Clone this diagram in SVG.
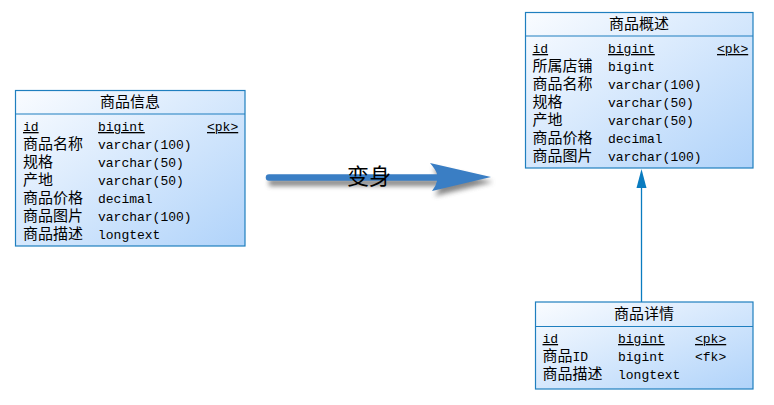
<svg xmlns="http://www.w3.org/2000/svg" width="774" height="405" viewBox="0 0 774 405">
<style>
.box{fill:url(#g);stroke:#1f7fbf;stroke-width:1.2}
.div{stroke:#1f7fbf;stroke-width:1.2}
.t{font-family:"Noto Sans CJK SC","Liberation Sans",sans-serif;font-size:15px;fill:#000}
.m{font-family:"Liberation Mono","Noto Sans CJK SC",monospace;font-size:13px;fill:#000}
.h{font-family:"Noto Sans CJK SC",sans-serif;font-size:15px;fill:#000;text-anchor:middle}
.u{text-decoration:underline}
</style>
<defs>
<linearGradient id="g" x1="0" y1="0" x2="1" y2="1">
<stop offset="0" stop-color="#fafcff"/>
<stop offset="1" stop-color="#b0d3fa"/>
</linearGradient>
<filter id="sh" x="-10%" y="-50%" width="120%" height="200%">
<feGaussianBlur stdDeviation="2.5"/>
</filter>
<marker id="ah" markerWidth="10" markerHeight="20" refX="10" refY="5" orient="auto" markerUnits="userSpaceOnUse" viewBox="0 0 20 10">
<path d="M0,0 L20,5 L0,10 Z" fill="#0a7cc0"/>
</marker>
</defs>
<g id="connectors">
<line x1="641.5" y1="302" x2="641.5" y2="186" stroke="#0a7cc0" stroke-width="1.3"/>
<path d="M641.5,169 L646.5,188 L636.5,188 Z" fill="#0a7cc0"/>
<g id="bigarrow">
<g filter="url(#sh)" fill="#555" opacity="0.7">
<path d="M269,179 L440,179 L440,186 L269,186 Z"/>
<path d="M433,168 L493,182 L435,196 L442,183 Z"/>
</g>
<line x1="269" y1="177.5" x2="440" y2="177.5" stroke="#3a7ec4" stroke-width="6.5" stroke-linecap="round"/>
<path d="M430,163 Q436,170 437,174 L437,181 Q436,186 432,191 L491,177 Z" fill="#3a7ec4"/>
<text x="369" y="184" font-family="Noto Sans CJK SC,sans-serif" font-size="22" text-anchor="middle" fill="#000">变身</text>
</g>
</g>
<g id="t1">
<rect class="box" x="15.5" y="90.5" width="229.5" height="155.5"/>
<line class="div" x1="15.5" y1="114" x2="245" y2="114"/>
<text class="h" x="130" y="107">商品信息</text>
<text class="m u" x="23" y="131">id</text><text class="m u" x="98" y="131">bigint</text><text class="m u" x="207" y="131">&lt;pk&gt;</text>
<text class="t" x="23" y="149">商品名称</text><text class="m" x="98" y="149">varchar(100)</text>
<text class="t" x="23" y="167">规格</text><text class="m" x="98" y="167">varchar(50)</text>
<text class="t" x="23" y="185">产地</text><text class="m" x="98" y="185">varchar(50)</text>
<text class="t" x="23" y="203">商品价格</text><text class="m" x="98" y="203">decimal</text>
<text class="t" x="23" y="221">商品图片</text><text class="m" x="98" y="221">varchar(100)</text>
<text class="t" x="23" y="239">商品描述</text><text class="m" x="98" y="239">longtext</text>
</g>
<g id="t2">
<rect class="box" x="525.5" y="12.5" width="227.5" height="155.5"/>
<line class="div" x1="525.5" y1="36" x2="753" y2="36"/>
<text class="h" x="639" y="29">商品概述</text>
<text class="m u" x="532.5" y="53">id</text><text class="m u" x="608" y="53">bigint</text><text class="m u" x="717" y="53">&lt;pk&gt;</text>
<text class="t" x="532.5" y="71">所属店铺</text><text class="m" x="608" y="71">bigint</text>
<text class="t" x="532.5" y="89">商品名称</text><text class="m" x="608" y="89">varchar(100)</text>
<text class="t" x="532.5" y="107">规格</text><text class="m" x="608" y="107">varchar(50)</text>
<text class="t" x="532.5" y="125">产地</text><text class="m" x="608" y="125">varchar(50)</text>
<text class="t" x="532.5" y="143">商品价格</text><text class="m" x="608" y="143">decimal</text>
<text class="t" x="532.5" y="161">商品图片</text><text class="m" x="608" y="161">varchar(100)</text>
</g>
<g id="t3">
<rect class="box" x="535.5" y="302" width="217.5" height="87"/>
<line class="div" x1="535.5" y1="326.5" x2="753" y2="326.5"/>
<text class="h" x="644" y="319">商品详情</text>
<text class="m u" x="542.5" y="343">id</text><text class="m u" x="618" y="343">bigint</text><text class="m u" x="695" y="343">&lt;pk&gt;</text>
<text class="t" x="542.5" y="361">商品<tspan class="m" style="font-size:13px;font-family:'Liberation Mono',monospace">ID</tspan></text><text class="m" x="618" y="361">bigint</text><text class="m" x="695" y="361">&lt;fk&gt;</text>
<text class="t" x="542.5" y="379">商品描述</text><text class="m" x="618" y="379">longtext</text>
</g>
</svg>
